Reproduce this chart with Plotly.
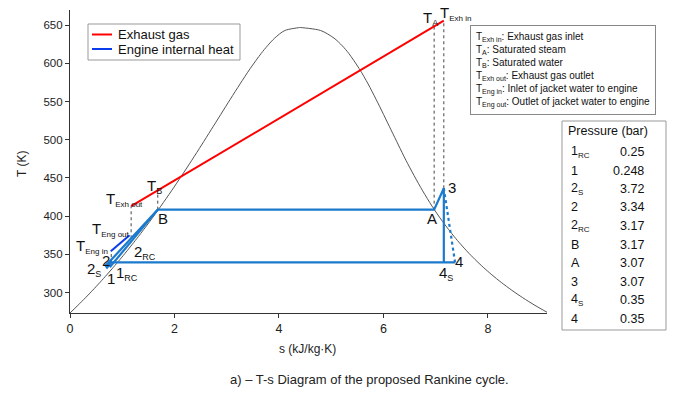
import plotly.graph_objects as go

# ---------------- data ----------------
# Saturation dome of water (steam tables): temperature in deg C, s_f, s_g in kJ/kg.K
sat_T_C = [0.01, 10, 20, 30, 40, 50, 60, 70, 80, 90, 100, 120, 140, 160, 180, 200,
           220, 240, 260, 280, 300, 320, 340, 350, 360, 370, 373.95]
sat_sf = [0.0000, 0.1511, 0.2965, 0.4368, 0.5724, 0.7038, 0.8313, 0.9551, 1.0756, 1.1929,
          1.3072, 1.5279, 1.7392, 1.9426, 2.1392, 2.3305, 2.5182, 2.7020, 2.8849, 3.0683,
          3.2548, 3.4480, 3.6594, 3.7800, 3.9167, 4.1120, 4.4070]
sat_sg = [9.1556, 8.8999, 8.6661, 8.4520, 8.2557, 8.0748, 7.9081, 7.7540, 7.6111, 7.4781,
          7.3541, 7.1291, 6.9293, 6.7502, 6.5857, 6.4302, 6.2861, 6.1437, 6.0019, 5.8571,
          5.7059, 5.5362, 5.3357, 5.2112, 5.0536, 4.7980, 4.4070]

# Rankine cycle state points (s, T)
cycle_labels = ["4", "1RC", "1", "2S", "2", "B", "A", "3", "4S"]
cycle_s = [7.37, 0.79, 0.71, 0.68, 0.73, 1.68, 6.97, 7.155, 7.155]
cycle_T = [339.5, 339.5, 332.5, 335.5, 338.5, 408.5, 408.5, 436.5, 339.5]

# recuperated liquid heating line (2RC branch)
rc_s = [0.76, 1.68]
rc_T = [333.0, 408.5]

# real expansion 3 -> 4
exp_s = [7.155, 7.37]
exp_T = [436.5, 339.5]

# Exhaust gas (T_Exh out -> T_Exh in)
exh_s = [1.17, 7.155]
exh_T = [413.0, 656.0]

# Engine internal heat (T_Eng in -> T_Eng out)
eng_s = [0.78, 1.14]
eng_T = [354.0, 375.0]

# dotted guide lines (s, T_low, T_high)
guide_s = [6.97, 7.155, 1.68, 1.17, 0.79]
guide_T0 = [408.5, 436.5, 408.5, 371.0, 338.5]
guide_T1 = [652.0, 656.0, 433.7, 413.0, 354.0]

# pressure table
p_points = ["1", "1", "2", "2", "2", "B", "A", "3", "4", "4"]
p_subs = ["RC", "", "S", "", "RC", "", "", "", "S", ""]
p_values = ["0.25", "0.248", "3.72", "3.34", "3.17", "3.17", "3.07", "3.07", "0.35", "0.35"]

x_ticks = [0, 2, 4, 6, 8]
y_ticks = [300, 350, 400, 450, 500, 550, 600, 650]

# ---------------- figure ----------------
W, H = 678, 393
L, R, T, B = 70, 131, 10, 80
PW, PH = W - L - R, H - T - B

def px(x):
    return (x - L) / PW

def py(y):
    return 1 - (y - T) / PH

FONT = "Liberation Sans, Arial, sans-serif"
CYC = "rgb(28,122,204)"
ENG = "rgb(10,60,235)"
RED = "rgb(255,0,0)"

def sub(main, s, size):
    if not s:
        return main
    return f"{main}<sub><span style='font-size:{size}px'>{s}</span></sub>"

fig = go.Figure()

# dome
dome_s = sat_sf + sat_sg[::-1]
dome_T = [t + 273.15 for t in sat_T_C] + [t + 273.15 for t in sat_T_C[::-1]]
fig.add_trace(go.Scatter(x=dome_s, y=dome_T, mode="lines",
                         line=dict(color="#555", width=1, shape="spline", smoothing=0.8),
                         showlegend=False, hoverinfo="skip"))

# guides
for s, t0, t1 in zip(guide_s, guide_T0, guide_T1):
    fig.add_trace(go.Scatter(x=[s, s], y=[t0, t1], mode="lines",
                             line=dict(color="#444", width=1, dash="dot"),
                             showlegend=False, hoverinfo="skip"))

# cycle
fig.add_trace(go.Scatter(x=cycle_s, y=cycle_T, mode="lines", line=dict(color=CYC, width=2.2),
                         showlegend=False))
fig.add_trace(go.Scatter(x=rc_s, y=rc_T, mode="lines", line=dict(color=CYC, width=2.2),
                         showlegend=False))
fig.add_trace(go.Scatter(x=exp_s, y=exp_T, mode="lines", line=dict(color=CYC, width=2.2, dash="dot"),
                         showlegend=False))

# exhaust gas & engine heat
fig.add_trace(go.Scatter(x=exh_s, y=exh_T, mode="lines", name="Exhaust gas",
                         line=dict(color=RED, width=2), showlegend=False))
fig.add_trace(go.Scatter(x=eng_s, y=eng_T, mode="lines", name="Engine internal heat",
                         line=dict(color=ENG, width=2), showlegend=False))

ann = []
def lab(text, x, y, size=15, xa="center", ya="middle"):
    ann.append(dict(text=text, x=x, y=y, xref="x", yref="y", showarrow=False,
                    xanchor=xa, yanchor=ya, font=dict(family=FONT, size=size, color="#111")))

# temperature labels
lab(sub("T", "A", 9), 6.90, 659.0)
lab(sub("T", "Exh in", 8), 7.38, 666.0)
lab(sub("T", "B", 9), 1.62, 439.0)
lab(sub("T", "Exh out", 8), 1.04, 421.5)
lab(sub("T", "Eng out", 8), 0.78, 382.5)
lab(sub("T", "Eng in", 8), 0.42, 360.0)

# state point labels
lab("2", 0.69, 342.0)
lab(sub("2", "S", 9), 0.46, 330.5)
lab("1", 0.78, 318.0)
lab(sub("1", "RC", 9), 1.10, 324.5)
lab(sub("2", "RC", 9), 1.43, 353.0)
lab("B", 1.78, 396.5)
lab("A", 6.93, 397.5)
lab("3", 7.31, 437.0)
lab("4", 7.45, 340.0)
lab(sub("4", "S", 9), 7.19, 325.0)

# description box
desc = "<br>".join([
    sub("T", "Exh in", 7) + ": Exhaust gas inlet",
    sub("T", "A", 7) + ": Saturated steam",
    sub("T", "B", 7) + ": Saturated water",
    sub("T", "Exh out", 7) + ": Exhaust gas outlet",
    sub("T", "Eng in", 7) + ": Inlet of jacket water to engine",
    sub("T", "Eng out", 7) + ": Outlet of jacket water to engine",
])
ann.append(dict(text=desc, x=px(470), y=py(25), xref="paper", yref="paper", showarrow=False,
                xanchor="left", yanchor="top", align="left", bordercolor="#888", borderwidth=1,
                borderpad=5, bgcolor="white", font=dict(family=FONT, size=10, color="#111")))

# pressure table
ann.append(dict(text="Pressure (bar)", x=px(608), y=py(131), xref="paper", yref="paper",
                showarrow=False, xanchor="center", yanchor="middle",
                font=dict(family=FONT, size=12.5, color="#111")))
for i, (p, s_, v) in enumerate(zip(p_points, p_subs, p_values)):
    yy = py(152 + i * 18.5)
    ann.append(dict(text=sub(p, s_, 8), x=px(569), y=yy, xref="paper", yref="paper", showarrow=False,
                    xanchor="left", yanchor="middle", font=dict(family=FONT, size=12.5, color="#111")))
    ann.append(dict(text=v, x=px(646), y=yy, xref="paper", yref="paper", showarrow=False,
                    xanchor="right", yanchor="middle", font=dict(family=FONT, size=12.5, color="#111")))

# manual legend
shapes = [
    dict(type="rect", xref="paper", yref="paper", x0=px(88), x1=px(240), y0=py(60), y1=py(24),
         line=dict(color="#999", width=1), fillcolor="white", layer="above"),
    dict(type="line", xref="paper", yref="paper", x0=px(92), x1=px(112), y0=py(34.5), y1=py(34.5),
         line=dict(color=RED, width=2), layer="above"),
    dict(type="line", xref="paper", yref="paper", x0=px(92), x1=px(112), y0=py(49), y1=py(49),
         line=dict(color=ENG, width=2), layer="above"),
    dict(type="rect", xref="paper", yref="paper", x0=px(562), x1=px(666), y0=py(330), y1=py(121),
         line=dict(color="#999", width=1), fillcolor="rgba(0,0,0,0)"),
]
for txt, yy in [("Exhaust gas", 34.5), ("Engine internal heat", 49)]:
    ann.append(dict(text=txt, x=px(116), y=py(yy), xref="paper", yref="paper", showarrow=False,
                    xanchor="left", yanchor="middle", font=dict(family=FONT, size=13, color="#111")))

# axis titles and caption
ann.append(dict(text="T (K)", x=px(22), y=py(164), xref="paper", yref="paper", showarrow=False,
                xanchor="center", yanchor="middle",
                textangle=-90, font=dict(family=FONT, size=12, color="#222")))
ann.append(dict(text="s (kJ/kg·K)", x=px(307), y=py(349), xref="paper", yref="paper", showarrow=False,
                xanchor="center", yanchor="middle",
                font=dict(family=FONT, size=12, color="#222")))
ann.append(dict(text="a) – T-s Diagram of the proposed Rankine cycle.", x=px(369), y=py(379),
                xref="paper", yref="paper", showarrow=False, xanchor="center", yanchor="middle",
                font=dict(family=FONT, size=13, color="#222")))

fig.update_layout(
    width=W, height=H, margin=dict(l=L, r=R, t=T, b=B, autoexpand=False),
    paper_bgcolor="white", plot_bgcolor="white", showlegend=False,
    font=dict(family=FONT, size=11, color="#222"),
    xaxis=dict(range=[0, 9.13], tickvals=x_ticks, ticks="outside", ticklen=4, showgrid=False,
               zeroline=False, showline=True, linecolor="#333", linewidth=1.2, tickcolor="#333",
               tickfont=dict(size=12.5)),
    yaxis=dict(range=[273.15, 670], tickvals=y_ticks, ticks="outside", ticklen=4, showgrid=False,
               zeroline=False, showline=True, linecolor="#333", linewidth=1.2, tickcolor="#333",
               tickfont=dict(size=11.5)),
    annotations=ann, shapes=shapes,
)

fig.write_html("out.html")
